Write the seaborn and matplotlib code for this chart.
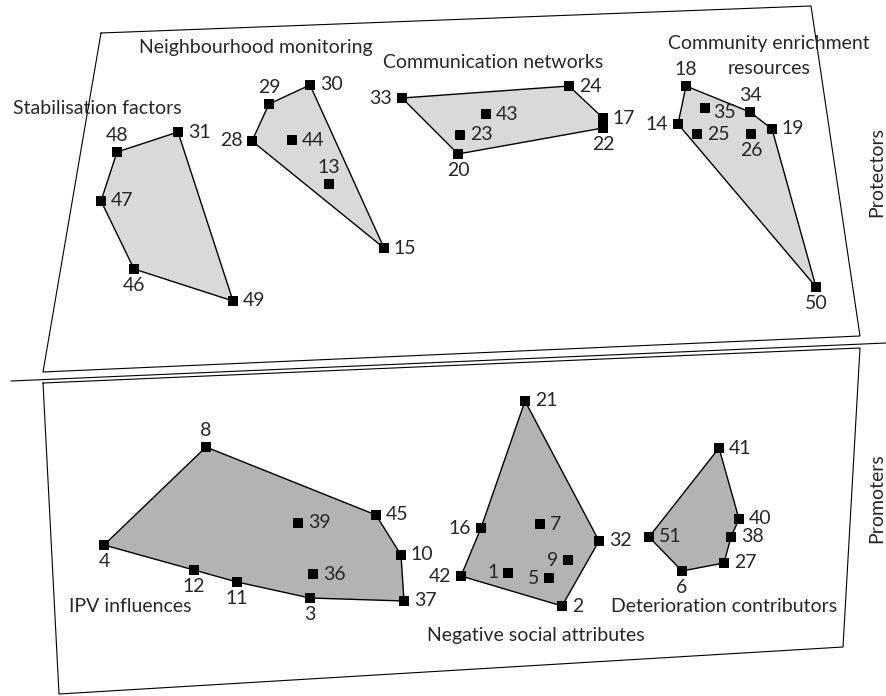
import pandas as pd
import matplotlib.pyplot as plt
import seaborn as sns

# point ids and their positions on the concept map (map units)
point_id = [48, 31, 47, 46, 49,
            29, 30, 28, 44, 13, 15,
            33, 24, 17, 22, 43, 23, 20,
            18, 14, 35, 25, 34, 26, 19, 50,
            8, 4, 12, 11, 3, 39, 36, 45, 10, 37,
            21, 16, 42, 7, 32, 9, 1, 5, 2,
            51, 41, 40, 38, 27, 6]
point_x = [117, 178, 101, 134, 233,
           269, 310, 252, 292, 329, 384,
           402, 569, 603, 603, 486, 460, 458,
           686, 678, 705, 697, 750, 751, 772, 816,
           206, 104, 194, 237, 310, 298, 313, 376, 401, 404,
           525, 481, 461, 540, 599, 568, 508, 549, 562,
           649, 719, 739, 731, 724, 682]
point_y = [152, 132, 201, 269, 301,
           104, 85, 141, 140, 184, 248,
           98, 86, 118, 128, 114, 135, 154,
           86, 124, 108, 134, 112, 134, 129, 287,
           447, 545, 570, 582, 598, 523, 574, 515, 555, 601,
           401, 528, 576, 524, 541, 560, 573, 578, 606,
           537, 448, 519, 537, 563, 571]

# clusters: name lines, hull (point ids in drawing order), group
cluster_names = [["Stabilisation factors"], ["Neighbourhood monitoring"],
                 ["Communication networks"], ["Community enrichment", "resources"],
                 ["IPV influences"], ["Negative social attributes"],
                 ["Deterioration contributors"]]
cluster_hulls = [[48, 31, 49, 46, 47],
                 [29, 30, 15, 28],
                 [33, 24, 17, 22, 20],
                 [18, 34, 19, 50, 14],
                 [8, 45, 10, 37, 3, 11, 12, 4],
                 [21, 32, 2, 42, 16],
                 [41, 40, 38, 27, 6, 51]]
cluster_group = ["Protectors"] * 4 + ["Promoters"] * 3
cluster_label_x = [13, 139, 383, 769, 69, 427, 611]
cluster_label_y = [109, 48, 62, 43, 606, 635, 606]
group_names = ["Protectors", "Promoters"]
group_label_y = [172, 498]

# frames around the two groups
frame_top_x = [101, 811, 860, 43, 101]
frame_top_y = [33, 6, 336, 372, 33]
frame_bot_x = [43, 860, 843, 59, 43]
frame_bot_y = [383, 348, 647, 694, 383]
divider_x = [11, 886]
divider_y = [381, 343]

# where each number sits relative to its marker
side = {48: 'a', 31: 'r', 47: 'r', 46: 'b', 49: 'r',
        29: 'a', 30: 'r', 28: 'l', 44: 'r', 13: 'a', 15: 'r',
        33: 'l', 24: 'r', 17: 'r', 22: 'b', 43: 'r', 23: 'r', 20: 'b',
        18: 'a', 14: 'l', 35: 'rb', 25: 'r', 34: 'a', 26: 'b', 19: 'r', 50: 'b',
        8: 'a', 4: 'b', 12: 'b', 11: 'b', 3: 'b', 39: 'r', 36: 'r', 45: 'r',
        10: 'r', 37: 'r',
        21: 'r', 16: 'l', 42: 'l', 7: 'r', 32: 'r', 9: 'l', 1: 'l', 5: 'l', 2: 'r',
        51: 'r', 41: 'r', 40: 'r', 38: 'r', 27: 'r', 6: 'b'}

df = pd.DataFrame({'id': point_id, 'x': point_x, 'y': point_y})
pos = df.set_index('id')

sns.set_theme(style='white')
plt.rcParams['font.family'] = ['Lato', 'DejaVu Sans']
fs = 14

fig = plt.figure(figsize=(8.86, 6.96), dpi=100)
ax = fig.add_axes([0, 0, 1, 1])
ax.set_xlim(0, 886)
ax.set_ylim(696, 0)
ax.axis('off')

# frames
ax.plot(frame_top_x, frame_top_y, color='black', lw=0.8)
ax.plot(frame_bot_x, frame_bot_y, color='black', lw=0.8)
ax.plot(divider_x, divider_y, color='black', lw=0.8)

# hull polygons
fills = {"Protectors": '#d9d9d9', "Promoters": '#b3b3b3'}
for hull, grp in zip(cluster_hulls, cluster_group):
    hx = pos.loc[hull, 'x'].tolist()
    hy = pos.loc[hull, 'y'].tolist()
    ax.fill(hx, hy, facecolor=fills[grp], edgecolor='black', lw=1.0, zorder=1)

sns.scatterplot(data=df, x='x', y='y', marker='s', color='black', s=42,
                linewidth=0, legend=False, ax=ax, zorder=3)

offsets = {'r': ((7, 0), 'left', 'center'),
           'l': ((-7, 0), 'right', 'center'),
           'a': ((0, 6), 'center', 'bottom'),
           'b': ((0, -6), 'center', 'top'),
           'rb': ((6, -3), 'left', 'center')}
for pid, x, y in zip(point_id, point_x, point_y):
    off, ha, va = offsets[side[pid]]
    ax.annotate(str(pid), (x, y), xytext=off, textcoords='offset points',
                ha=ha, va=va, fontsize=fs)

for lines, lx, ly in zip(cluster_names, cluster_label_x, cluster_label_y):
    if len(lines) > 1:
        # two centred lines, each its own text
        for i, line in enumerate(lines):
            ax.text(lx, ly + 25 * i, line, ha='center', va='center', fontsize=fs)
    else:
        ax.text(lx, ly, lines[0], ha='left', va='center', fontsize=fs)

for g, gy in zip(group_names, group_label_y):
    ax.text(885, gy, g, rotation=90, ha='right', va='center', fontsize=fs)

fig.savefig('out.png', dpi=100)
